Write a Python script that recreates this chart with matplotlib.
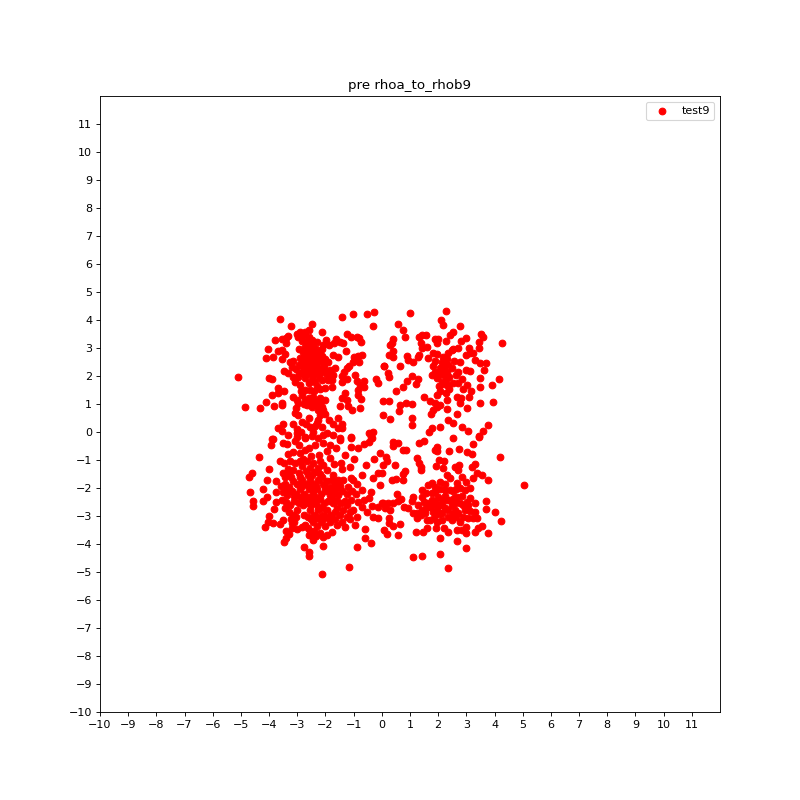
#!/usr/bin/env python3

import matplotlib
matplotlib.use('Agg')
import matplotlib.pyplot as plt
import numpy as np

# values, one list per quadrant
upper_left = [
    (-3.60,4.02),(-3.21,3.77),(-2.46,3.85),(-2.14,3.56),(-1.40,4.10),(-1.01,4.20),(-0.51,4.20),(-0.26,4.27),(-0.30,3.77),
    (-5.09,1.95),(-4.84,0.88),(-4.31,0.85),(-4.10,1.06),(-3.81,0.92),(-3.53,1.02),(-3.53,0.95),(-3.88,1.31),(-3.67,1.56),
    (-3.67,1.38),(-3.46,1.48),(-3.99,1.92),(-3.88,1.88),(-4.10,2.63),(-3.85,2.67),(-4.03,2.95),(-3.78,3.27),(-3.67,2.88),
    (-3.53,2.92),(-3.42,2.77),(-3.53,2.59),(-3.53,3.31),(-3.39,3.35),(-3.32,3.42),(-3.39,3.17),
    (-3.02,3.49),(-2.90,3.56),(-2.72,3.58),(-2.60,3.64),(-2.78,3.43),(-2.96,3.38),(-2.60,3.38),(-2.46,3.29),(-2.67,3.23),
    (-2.43,3.11),(-2.72,3.05),(-1.98,3.27),(-2.07,3.11),(-2.13,2.95),(-1.87,3.11),(-1.62,3.31),(-1.68,3.17),(-1.48,3.23),
    (-1.36,3.17),(-1.22,3.49),(-1.09,3.40),(-0.88,3.38),(-0.74,3.20),(-0.81,3.35),(-1.27,2.88),(-1.72,2.75),(-1.56,2.69),
    (-0.71,2.75),(-0.85,2.71),(-0.97,2.67),(-0.81,2.49),(-1.04,2.51),(-1.16,2.37),(-1.24,2.27),(-1.33,2.15),(-1.40,1.99),
    (-0.95,2.04),(-0.89,1.83),(-0.65,1.82),(-0.77,1.68),(-0.62,1.59),(-0.83,1.50),(-0.83,1.32),(-0.74,1.17),(-0.79,0.85),
    (-1.07,0.79),(-1.21,0.93),(-1.40,1.20),(-1.30,1.38),(-1.24,1.14),(-1.50,0.92),(-1.40,1.80),(-1.24,1.88),(-0.20,1.88),
    (-0.14,1.76),(-1.54,0.49),(-1.72,0.29),(-1.42,0.29),(-1.56,0.13),(-1.42,0.15),(-2.57,0.49),(-2.84,0.35),(-3.14,0.27),
    (-3.49,0.29),(-3.67,0.13),(-3.55,0.05),(-2.87,0.01),(-2.43,0.01),(-2.37,0.21),(-2.25,0.43),(-2.19,0.61),(-2.01,0.64),
    (-2.30,0.31),(-2.55,0.19),(-0.45,-0.02),(-0.30,0.01),
    (-3.08,0.67),(-2.98,0.61),(-3.05,0.85),(-2.96,1.02),(-3.14,1.26),(-3.02,1.14),(-2.84,1.32),(-2.72,1.14),(-2.66,0.96),
    (-2.49,0.90),(-2.31,0.96),(-2.13,0.90),(-2.01,1.14),(-2.19,1.20),(-2.43,1.26),(-2.07,0.79),(-2.25,0.79),(-2.72,1.50),
    (-2.37,1.80),(-2.60,1.74),(-2.90,1.68),(-3.08,1.80),(-2.98,1.95),(-3.14,1.97),(-3.32,2.10),(-3.46,2.19),(-3.20,2.33),
    (-3.26,2.51),(-3.14,2.55),(-2.72,1.92),(-2.43,2.04),(-2.13,1.86),(-1.90,1.86),(-1.78,1.59),(-2.01,1.56),(-2.19,1.53),
    (-1.72,2.04),(-1.84,2.21),(-1.66,2.27),
    (-2.95,2.95),(-2.80,2.85),(-2.65,2.95),(-2.50,2.85),(-2.35,2.95),(-2.20,2.80),(-2.90,2.65),(-2.75,2.60),(-2.60,2.70),
    (-2.45,2.60),(-2.30,2.65),(-2.15,2.55),(-2.00,2.60),(-2.95,2.40),(-2.80,2.35),(-2.65,2.45),(-2.50,2.35),(-2.35,2.40),
    (-2.20,2.30),(-2.05,2.40),(-1.90,2.50),(-2.85,2.15),(-2.70,2.20),(-2.55,2.10),(-2.40,2.20),(-2.25,2.10),(-2.10,2.15),
    (-1.95,2.05),(-2.60,2.50),(-2.40,2.75),(-2.55,3.05),(-2.30,3.20),(-2.85,3.25),(-3.05,2.25),(-2.95,2.10),(-2.55,1.50),
    (-2.30,1.65),(-2.75,1.00),(-2.50,1.05),(-2.20,1.05),
    (-2.68,2.78),(-2.52,2.62),(-2.38,2.52),(-2.58,2.28),(-2.28,2.82),(-2.12,2.72),(-2.85,2.50),(-2.72,2.05),(-2.48,1.92),
    (-2.22,1.95),(-2.02,2.22),(-1.78,1.85),(-2.40,1.45),(-2.88,1.45),(-2.60,1.20),(-2.35,1.12),
    (-3.02,0.12),(-2.68,0.28),(-2.12,0.18),(-1.88,0.42),
]

upper_right = [
    (1.01,4.24),(2.26,4.31),(2.11,4.00),(2.18,3.82),(2.79,3.77),(0.59,3.85),(0.76,3.64),(0.84,3.38),(0.41,3.31),(0.37,3.17),
    (0.29,3.10),(0.41,2.90),(0.27,2.75),(0.41,2.67),(0.09,2.35),(0.66,2.35),(0.23,2.10),(0.27,1.98),(0.91,2.71),(0.94,2.57),
    (1.12,2.49),(1.33,2.75),(1.30,2.67),(1.40,3.17),(1.33,3.38),(1.44,3.45),(1.58,3.45),(1.62,3.02),(1.44,2.99),(1.90,3.31),
    (2.01,3.31),(1.97,3.17),(2.29,3.24),(2.43,3.45),(2.54,3.56),(2.97,3.35),(2.82,3.24),(3.51,3.49),(3.60,3.38),(3.46,3.20),
    (3.46,2.99),(4.28,3.17),(2.54,2.95),(2.72,2.99),(3.11,2.99),(3.25,2.81),(2.97,2.74),(3.13,2.81),(1.65,2.63),(1.83,2.81),
    (1.97,2.77),(2.18,2.69),(2.36,2.81),(2.48,2.93),(2.78,2.51),(3.31,2.56),(3.49,2.48),(3.68,2.45),(3.64,2.20),(2.97,2.20),
    (3.14,2.17),(2.72,2.16),(3.50,1.92),(4.17,1.88),(3.92,1.67),(3.50,1.59),(3.96,1.06),(3.50,1.02),(3.04,0.84),(3.11,1.24),
    (3.18,1.45),(3.04,1.67),(2.89,1.52),(2.86,1.88),(2.72,1.74),(2.68,1.24),(2.82,1.20),(2.79,1.02),(2.65,0.63),(2.33,0.81),
    (1.76,0.63),(2.08,0.95),(1.97,0.88),(1.83,0.79),(1.90,1.02),(1.72,1.09),(1.51,1.24),(1.97,1.31),(2.33,1.13),(2.26,1.38),
    (2.40,1.52),(2.54,1.74),(2.04,1.63),(1.30,1.88),(1.23,1.70),(1.08,1.99),(0.91,1.81),(0.76,1.59),(0.52,1.45),(0.05,1.09),
    (0.27,1.09),(0.66,0.95),(0.87,1.02),(1.08,0.99),(0.62,0.74),(0.05,0.60),(0.30,0.45),(1.08,0.49),(1.08,0.24),(2.36,0.42),
    (2.54,0.31),(2.08,0.17),(1.79,0.13),(1.69,-0.01),(2.86,0.17),(3.07,0.02),(3.75,0.24),(3.60,0.02),(3.46,-0.15),(0.06,2.36),
    (1.83,2.37),(1.77,2.04),(1.95,1.92),(2.13,1.80),(2.30,2.15),(2.48,2.27),(2.13,2.51),(2.36,2.39),(2.13,2.15),(1.89,2.15),
    (2.25,2.00),(2.40,1.95),(2.05,2.30),(2.30,2.60),(1.90,2.55),(2.55,2.55),(2.20,1.70),(2.35,1.65),(2.05,1.45),
    (2.22,2.28),(2.02,2.05),(2.18,2.42),(2.62,2.05),(2.28,1.82),
]

lower_left = [
    (-4.35,-0.90),(-3.63,-1.05),(-3.99,-1.33),(-4.59,-1.48),(-4.70,-1.62),(-4.06,-1.73),(-3.74,-1.76),(-4.20,-2.05),(-4.66,-2.16),
    (-4.56,-2.45),(-4.56,-2.65),(-4.20,-2.48),(-4.06,-2.33),(-3.74,-2.16),(-3.74,-2.51),(-3.81,-2.76),(-3.99,-3.01),(-4.03,-3.23),
    (-4.13,-3.40),(-3.85,-3.26),(-3.63,-3.30),(-3.49,-3.15),(-3.39,-3.55),(-3.28,-3.65),(-3.46,-3.94),(-3.39,-3.80),(-2.75,-4.12),
    (-2.57,-4.30),(-2.57,-4.44),(-2.07,-4.08),(-2.14,-5.08),(-1.15,-4.83),(-0.87,-4.12),(-0.58,-3.80),(-0.40,-3.98),(-0.58,-3.48),
    (-1.29,-3.40),(-0.97,-0.98),(-1.44,-1.12),(-1.40,-1.33),(-0.26,-0.98),(-0.08,-0.76),(-0.12,-1.48),(-0.30,-1.66),(-0.08,-1.89),
    (-1.08,-0.23),(-1.09,-0.55),(-0.83,-0.58),(-0.65,-0.43),(-0.47,-0.37),(-0.36,-0.23),(-1.48,-0.30),(-1.61,-0.58),(-1.95,-0.68),
    (-2.07,-0.40),(-2.37,-0.46),(-2.60,-0.58),(-2.72,-0.23),(-3.02,-0.17),(-3.37,-0.44),(-3.49,-0.40),(-3.87,-0.25),(-3.95,-0.48),
    (-3.14,-0.70),(-2.90,-0.76),(-3.26,-1.04),(-3.08,-1.12),(-2.78,-0.96),(-2.43,-1.12),(-2.07,-1.18),(-1.95,-1.36),(-3.31,-1.51),
    (-3.14,-1.36),(-2.37,-1.42),(-1.54,-1.71),(-1.78,-1.71),(-1.09,-1.63),(-0.89,-1.87),(-1.01,-1.71),(-0.71,-2.07),(-0.38,-2.13),
    (-0.47,-2.37),(-0.83,-2.49),(-0.71,-2.67),(-0.53,-2.85),(-0.36,-2.63),(-0.12,-2.67),(0.00,-2.55),(-0.30,-3.02),(-0.15,-3.08),
    (-0.89,-3.02),(-0.95,-3.32),(-1.13,-2.87),(-1.24,-3.02),(-1.48,-2.96),(-1.60,-3.32),(-1.95,-3.68),(-2.07,-3.74),(-1.78,-3.56),
    (-2.43,-3.86),(-2.60,-3.68),(-2.84,-3.38),(-2.72,-3.32),(-3.20,-3.26),
    (-3.34,-0.11),(-3.88,-0.24),(-3.02,-0.05),(-2.72,-0.17),(-2.07,-0.11),(-1.95,-0.05),(-1.72,-0.11),(-1.48,-0.23),(-1.09,-0.19),
    (-0.38,-0.17),
    (-3.45,-1.85),(-3.30,-1.95),(-3.15,-1.75),(-3.00,-1.85),(-2.85,-1.70),(-2.70,-1.85),(-2.55,-1.70),(-2.40,-1.85),(-2.25,-1.70),
    (-2.10,-1.85),(-1.95,-1.75),(-1.80,-1.95),(-1.65,-1.85),(-3.50,-2.15),(-3.35,-2.25),(-3.20,-2.10),(-3.05,-2.20),(-2.90,-2.05),
    (-2.75,-2.20),(-2.60,-2.05),(-2.45,-2.20),(-2.30,-2.05),(-2.15,-2.20),(-2.00,-2.10),(-1.85,-2.25),(-1.70,-2.15),(-1.55,-2.25),
    (-1.40,-2.10),(-1.25,-2.20),(-3.40,-2.50),(-3.25,-2.60),(-3.10,-2.45),(-2.95,-2.55),(-2.80,-2.40),(-2.65,-2.55),(-2.50,-2.40),
    (-2.35,-2.55),(-2.20,-2.40),(-2.05,-2.55),(-1.90,-2.45),(-1.75,-2.55),(-1.60,-2.45),(-1.45,-2.55),(-1.30,-2.45),(-3.30,-2.85),
    (-3.15,-2.95),(-3.00,-2.80),(-2.75,-2.95),(-2.55,-2.80),(-2.40,-2.95),(-2.25,-2.80),(-2.10,-2.95),(-1.95,-2.80),(-1.80,-2.95),
    (-1.65,-2.85),(-3.10,-3.20),(-2.45,-3.20),(-2.30,-3.35),(-2.15,-3.20),(-2.00,-3.35),(-1.85,-3.20),(-1.65,-3.10),(-2.40,-3.55),
    (-2.20,-3.60),(-2.95,-1.45),(-2.70,-1.40),(-2.20,-1.50),(-1.20,-1.95),(-1.05,-2.10),
    (-3.22,-1.62),(-3.38,-2.02),(-3.12,-2.28),(-2.92,-2.32),(-2.78,-2.62),(-2.62,-2.32),(-2.52,-2.62),(-2.38,-2.32),(-2.28,-2.68),
    (-2.12,-2.72),(-2.42,-2.02),(-2.58,-1.92),(-2.32,-1.92),(-2.82,-1.92),(-2.92,-1.62),(-2.62,-1.52),(-2.48,-1.55),(-2.12,-1.62),
    (-2.02,-1.98),(-1.88,-2.02),(-1.78,-2.32),(-1.62,-2.02),(-1.48,-1.92),(-2.62,-3.02),(-2.52,-3.12),(-2.35,-3.08),(-2.22,-3.02),
    (-2.08,-3.12),(-1.92,-3.02),(-2.62,-3.42),(-2.48,-3.72),(-2.32,-3.72),(-2.55,-3.52),(-3.05,-3.05),(-3.22,-3.12),(-3.42,-2.72),
    (-3.55,-2.42),(-3.58,-1.92),(-3.42,-1.62),(-3.32,-1.32),(-2.85,-1.22),(-2.55,-1.28),(-2.28,-1.28),(-1.75,-1.52),(-1.38,-1.72),
    (-1.22,-2.62),(-1.08,-2.42),(-1.38,-2.78),(-1.58,-2.72),(-1.02,-2.78),(-0.62,-2.42),(-0.92,-2.22),
    (-3.32,-0.78),(-2.95,-0.48),(-2.72,-0.65),(-2.52,-0.85),(-2.22,-0.82),(-1.85,-0.92),(-1.68,-1.15),(-3.08,-0.32),(-2.48,-0.15),
    (-2.25,-0.22),(-3.48,-1.12),(-2.92,-1.05),(-2.65,-1.05),(-1.85,-0.45),(-1.32,-0.82),(-1.12,-1.25),(-0.72,-1.52),(-0.55,-1.18),
    (-2.18,-1.02),(-3.52,-1.45),(-3.02,-3.48),(-3.18,-3.42),(-1.42,-3.22),(-1.12,-3.12),
]

lower_right = [
    (2.54,-0.20),(3.46,-0.17),(3.25,-0.44),(2.75,-0.62),(2.40,-0.69),(3.04,-0.70),(3.21,-0.80),(4.21,-0.90),(5.06,-1.90),(0.41,-0.37),
    (0.59,-0.40),(0.41,-0.51),(0.76,-0.65),(0.86,-0.65),(1.33,-0.40),(1.51,-0.33),(1.90,-0.65),(1.97,-0.55),(1.97,-0.69),(1.26,-0.94),
    (1.33,-1.12),(1.40,-1.37),(1.40,-1.26),(0.16,-0.90),(0.20,-1.05),(0.05,-1.19),(0.48,-1.19),(0.00,-1.48),(0.84,-1.40),(0.76,-1.51),
    (0.76,-1.73),(0.52,-1.69),(0.37,-1.73),(2.04,-1.01),(2.22,-1.05),(1.94,-1.23),(2.18,-1.30),(2.60,-1.26),(2.75,-1.19),(2.72,-1.37),
    (3.21,-1.26),(3.32,-1.15),(3.39,-1.48),(3.25,-1.65),(3.57,-1.55),(3.78,-1.73),(3.68,-2.48),(3.71,-2.76),(4.03,-2.87),(4.24,-3.19),
    (3.75,-3.62),(3.57,-3.37),(3.43,-3.44),(3.29,-3.58),(2.97,-4.15),(2.65,-3.90),(2.08,-3.80),(2.08,-4.37),(1.44,-4.44),(1.12,-4.47),
    (2.36,-4.87),(0.59,-3.69),(0.20,-3.65),(0.09,-3.51),(0.66,-3.30),(0.41,-3.37),(0.27,-3.26),(0.27,-3.08),(1.23,-3.58),(1.47,-3.58),
    (1.62,-3.44),(1.94,-3.44),(2.22,-3.44),(2.36,-3.58),(0.55,-2.23),(0.69,-2.40),(0.59,-2.46),(0.41,-2.55),(0.23,-2.55),(0.05,-2.55),
    (0.29,-2.78),(0.11,-2.73),(0.77,-2.69),(0.94,-2.73),(1.12,-2.31),(1.06,-2.46),(1.24,-2.90),(1.12,-2.90),(1.24,-3.08),(1.42,-2.07),
    (1.42,-2.31),(1.48,-2.49),(1.42,-2.78),(1.54,-2.90),(1.59,-3.14),(1.71,-3.14),(1.65,-1.89),(1.77,-1.83),(1.77,-2.19),(1.77,-2.43),
    (1.71,-2.67),(1.89,-2.49),(2.01,-2.31),(1.95,-2.78),(2.13,-2.90),(2.13,-3.14),(2.30,-1.54),(2.42,-1.65),(2.24,-2.07),(2.42,-2.07),
    (2.30,-2.43),(2.48,-2.61),(2.48,-3.14),(2.36,-2.78),(2.66,-1.83),(2.78,-2.01),(2.66,-2.31),(2.78,-2.55),(2.72,-2.90),(2.78,-3.20),
    (2.66,-3.50),(2.84,-3.50),(2.97,-3.62),(3.00,-3.38),(3.07,-3.08),(3.25,-3.08),(3.37,-3.08),(3.31,-2.84),(3.31,-2.55),(3.13,-2.37),
    (3.01,-2.49),(2.95,-2.78),(3.13,-2.01),(2.95,-2.07),(3.00,-1.77),(2.05,-2.05),(2.15,-2.60),(1.90,-2.15),(2.55,-2.35),(2.60,-2.80),
    (1.30,-2.62),(1.55,-2.18),(1.62,-2.55),(1.55,-2.72),(1.82,-2.85),(1.85,-2.62),(2.02,-2.62),(2.02,-2.92),(2.25,-2.72),(2.25,-2.28),
    (2.42,-2.42),(2.58,-2.55),(2.52,-2.12),(2.62,-2.05),(2.85,-2.28),(2.88,-2.62),(3.05,-2.62),(3.12,-2.82),(2.25,-1.85),(2.05,-1.80),
    (1.88,-1.95),(2.12,-2.42),(2.35,-3.05),(2.52,-2.92),(2.62,-3.02),(2.88,-3.05),(1.85,-3.08),(1.38,-2.95),(1.95,-3.22),(2.85,-1.62),
]

all_points = np.array(upper_left + upper_right + lower_left + lower_right)
ticks = np.arange(-10, 12)

plt.figure(figsize=(10, 10), dpi=80)
plt.scatter(all_points[:, 0], all_points[:, 1], c='red', label='test9')
plt.xlim(-10, 12)
plt.ylim(-10, 12)
plt.xticks(ticks)
plt.yticks(ticks)
plt.title('pre rhoa_to_rhob9')
plt.legend(loc='upper right')
plt.savefig('out.png', dpi=80)
